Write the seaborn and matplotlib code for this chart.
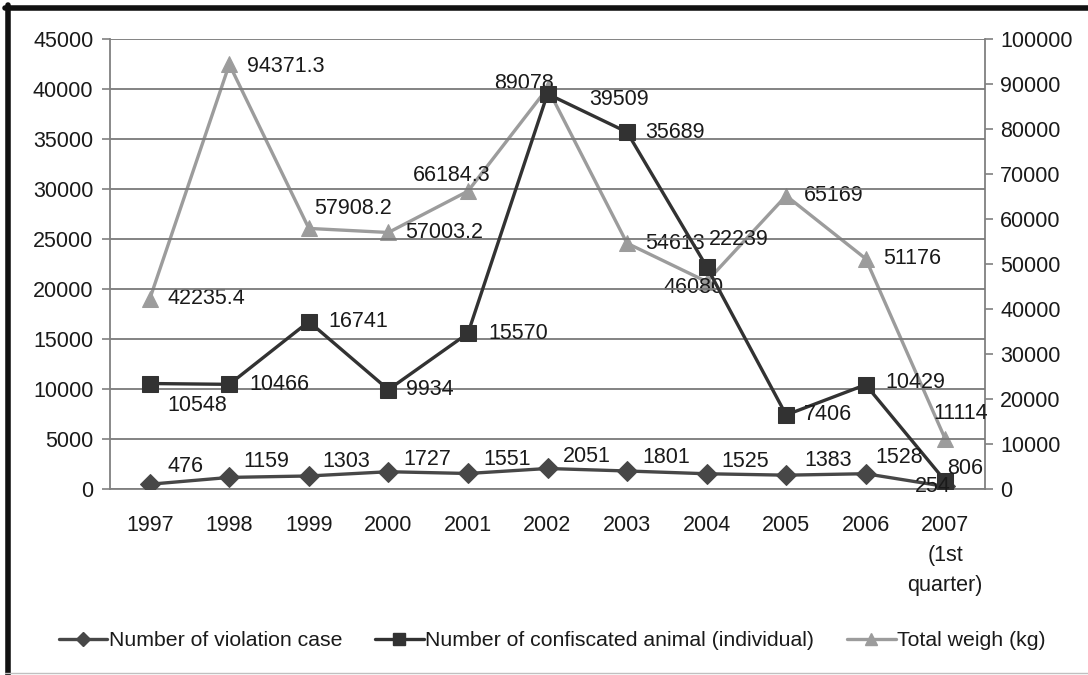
import matplotlib
matplotlib.use("Agg")
import matplotlib.pyplot as plt
import seaborn as sns
import numpy as np
from matplotlib.lines import Line2D

# ---- data ----
years = ["1997", "1998", "1999", "2000", "2001", "2002", "2003", "2004", "2005", "2006", "2007\n(1st\nquarter)"]
violation_cases = [476, 1159, 1303, 1727, 1551, 2051, 1801, 1525, 1383, 1528, 254]
confiscated_animals = [10548, 10466, 16741, 9934, 15570, 39509, 35689, 22239, 7406, 10429, 806]
total_weight = [42235.4, 94371.3, 57908.2, 57003.2, 66184.3, 89078, 54613, 46080, 65169, 51176, 11114]
total_labels = ["42235.4", "94371.3", "57908.2", "57003.2", "66184.3", "89078", "54613", "46080", "65169", "51176", "11114"]

series_names = ["Number of violation case", "Number of confiscated animal (individual)", "Total weigh (kg)"]
left_ticks = list(range(0, 45001, 5000))
right_ticks = list(range(0, 100001, 10000))

# ---- label offsets (pixels) ----
off_viol = [(18, 18), (14, 16), (14, 14), (15, 12), (15, 14), (15, 12), (15, 13), (15, 12), (18, 15), (10, 16), (-30, 0)]
off_conf = [(18, -22), (20, 0), (20, 0), (18, 0), (20, 0), (42, -6), (18, 0), (2, 27), (18, 0), (20, 2), (2, 12)]
off_tot = [(18, 0), (18, -2), (5, 20), (17, 0), (-55, 16), (-53, 5), (18, 0), (-43, -6), (18, 0), (17, 0), (-12, 25)]

sns.set_theme(style="white")
plt.rcParams["font.family"] = ["Liberation Sans", "DejaVu Sans"]

W, H = 1088, 675
fig = plt.figure(figsize=(W / 100, H / 100), dpi=100)
fig.patch.set_facecolor("white")
ax = fig.add_axes([110 / W, 1 - 489 / H, (985 - 110) / W, (489 - 39) / H])
ax2 = ax.twinx()

x = np.arange(len(years))
c_viol = "#474747"
c_conf = "#323232"
c_tot = "#9c9c9c"
fs = 15.5

sns.lineplot(x=x, y=violation_cases, ax=ax, color=c_viol, linewidth=2.4, marker="D",
             markersize=10, markeredgecolor=c_viol, markerfacecolor=c_viol, zorder=4)
sns.lineplot(x=x, y=confiscated_animals, ax=ax, color=c_conf, linewidth=2.4, marker="s",
             markersize=11, markeredgecolor=c_conf, markerfacecolor=c_conf, zorder=5)
sns.lineplot(x=x, y=total_weight, ax=ax2, color=c_tot, linewidth=2.4, marker="^",
             markersize=11, markeredgecolor=c_tot, markerfacecolor=c_tot, zorder=3)

ax.set_zorder(ax2.get_zorder() + 1)
ax.patch.set_visible(False)

for xi, v, (dx, dy) in zip(x, violation_cases, off_viol):
    ax.annotate(str(v), (xi, v), xytext=(dx, dy), textcoords="offset pixels",
                ha="left", va="center", fontsize=fs, color="#1a1a1a", zorder=6)
for xi, v, (dx, dy) in zip(x, confiscated_animals, off_conf):
    ax.annotate(str(v), (xi, v), xytext=(dx, dy), textcoords="offset pixels",
                ha="left", va="center", fontsize=fs, color="#1a1a1a", zorder=6)
for xi, v, s, (dx, dy) in zip(x, total_weight, total_labels, off_tot):
    ax2.annotate(s, (xi, v), xytext=(dx, dy), textcoords="offset pixels",
                 ha="left", va="center", fontsize=fs, color="#1a1a1a", zorder=6)

# axes
ax.set_xlim(-0.5, len(years) - 0.5)
ax.set_ylim(0, 45000)
ax2.set_ylim(0, 100000)
ax.set_yticks(left_ticks)
ax.set_yticklabels([str(t) for t in left_ticks], fontsize=fs, color="#1a1a1a")
ax2.set_yticks(right_ticks)
ax2.set_yticklabels([str(t) for t in right_ticks], fontsize=fs, color="#1a1a1a")
ax.set_xticks(x)
ax.set_xticklabels(years, fontsize=fs, color="#1a1a1a", linespacing=1.55, va="top")
ax.set_xticks(np.arange(-0.5, len(years), 1.0), minor=True)
ax.tick_params(axis="x", which="major", length=0, pad=19)
ax.tick_params(axis="x", which="minor", length=6, width=1.2, color="#808080", direction="out")
ax.tick_params(axis="y", length=6, width=1.2, color="#808080", direction="out", pad=6, left=True)
ax2.tick_params(axis="y", length=6, width=1.2, color="#808080", direction="out", pad=5, right=True)
ax.set_xlabel("")
ax.set_ylabel("")
ax2.set_ylabel("")

ax.yaxis.grid(True, color="#7a7a7a", linewidth=1.3)
ax.xaxis.grid(False)
ax2.grid(False)
for a in (ax, ax2):
    a.spines["top"].set_visible(False)
    for s in ("left", "right", "bottom"):
        a.spines[s].set_color("#808080")
        a.spines[s].set_linewidth(1.3)
ax.spines["right"].set_visible(False)
ax2.spines["left"].set_visible(False)
ax2.spines["bottom"].set_visible(False)

for lg in (ax.get_legend(), ax2.get_legend()):
    if lg is not None:
        lg.remove()

handles = [
    Line2D([], [], color=c_viol, linewidth=2.4, marker="D", markersize=7, markerfacecolor=c_viol, markeredgecolor=c_viol),
    Line2D([], [], color=c_conf, linewidth=2.4, marker="s", markersize=9, markerfacecolor=c_conf, markeredgecolor=c_conf),
    Line2D([], [], color=c_tot, linewidth=2.4, marker="^", markersize=9, markerfacecolor=c_tot, markeredgecolor=c_tot),
]
fig.legend(handles, series_names, loc="center", bbox_to_anchor=(552 / W, 1 - 641 / H), ncol=3,
           frameon=False, fontsize=15.3, handlelength=2.3, handletextpad=0.05, columnspacing=1.55,
           labelcolor="#1a1a1a")

# outer frame
fig.add_artist(Line2D([7.5 / W, 7.5 / W], [0, 1 - 5 / H], transform=fig.transFigure, color="#111111", linewidth=4))
fig.add_artist(Line2D([5 / W, 1], [1 - 7.5 / H, 1 - 7.5 / H], transform=fig.transFigure, color="#111111", linewidth=4))
fig.add_artist(Line2D([5 / W, 1], [2.5 / H, 2.5 / H], transform=fig.transFigure, color="#c0c0c0", linewidth=1))

fig.savefig("out.png", dpi=100)
